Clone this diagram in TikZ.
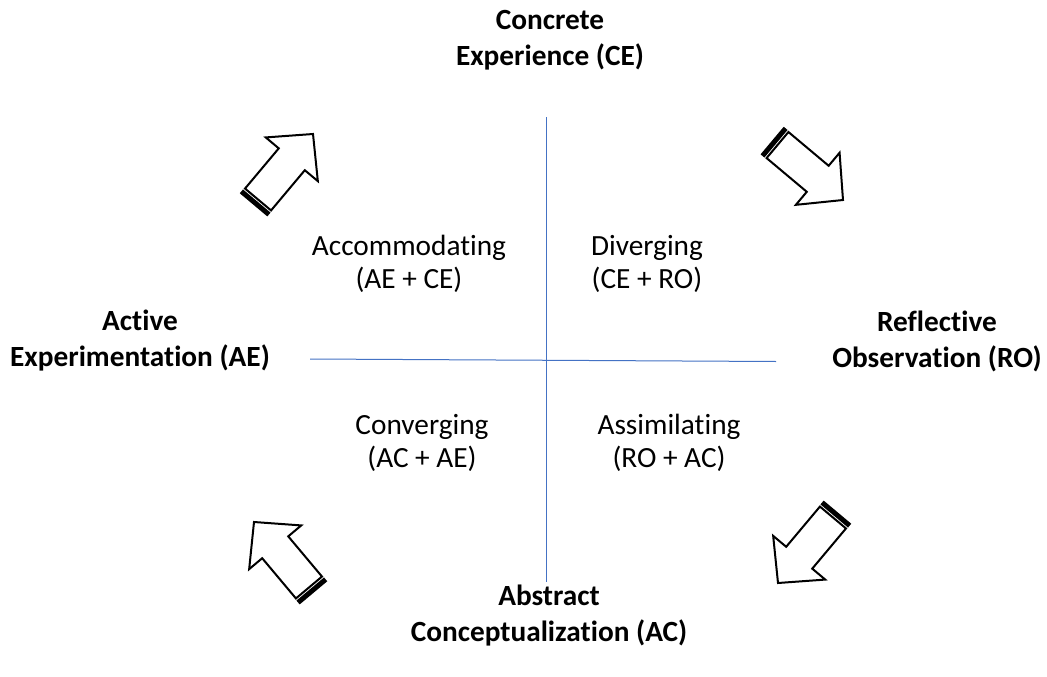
\documentclass[tikz,border=0pt]{standalone}
\usepackage{fontspec}
\setmainfont[Ligatures=CommonOff]{Carlito}
\definecolor{axisblue}{HTML}{4472C4}
\begin{document}
\begin{tikzpicture}[x=1pt,y=1pt,
  axisline/.style={draw=axisblue, line width=1pt},
  quad/.style={font=\fontsize{29.3}{33.5}\selectfont, align=center, inner sep=0pt},
  pole/.style={font=\fontsize{29.3}{36}\selectfont\bfseries, align=center, inner sep=0pt},
  stripedarrow/.pic={
    \draw[line width=2pt, fill=white, line join=miter]
      (-85.5,17) -- (-33,17) -- (-33,34) -- (0,0) -- (-33,-34) -- (-33,-17) -- (-85.5,-17) -- cycle;
    \fill (-92.5,-18) rectangle (-87.5,18);
  }]
\fill[white] (0,0) rectangle (1047,-677);
\useasboundingbox (0,0) rectangle (1047,-677);

% axes
\coordinate (vt) at (546,-117);
\coordinate (vb) at (546,-582);
\coordinate (hl) at (310,-359);
\coordinate (hr) at (776,-361.5);
\draw[axisline] (vt) -- (vb);
\draw[axisline] (hl) -- (hr);

% poles
\node[pole] (ce) at (550,-40) {Concrete\\Experience (CE)};
\node[pole] (ae) at (140,-341) {Active\\Experimentation (AE)};
\node[pole] (ro) at (937,-341) {Reflective\\Observation (RO)};
\node[pole] (ac) at (549,-616) {Abstract\\Conceptualization (AC)};

% quadrants
\node[quad] (acc) at (409,-264) {Accommodating\\(AE + CE)};
\node[quad] (div) at (647,-264) {Diverging\\(CE + RO)};
\node[quad] (con) at (422,-443) {Converging\\(AC + AE)};
\node[quad] (ass) at (669,-443) {Assimilating\\(RO + AC)};

% striped arrows
\pic[rotate=50] (arrA) at (313,-134) {stripedarrow};
\pic[rotate=-40] (arrB) at (843,-200) {stripedarrow};
\pic[rotate=-130] (arrC) at (778,-583) {stripedarrow};
\pic[rotate=130] (arrD) at (254,-522) {stripedarrow};
\end{tikzpicture}
\end{document}
